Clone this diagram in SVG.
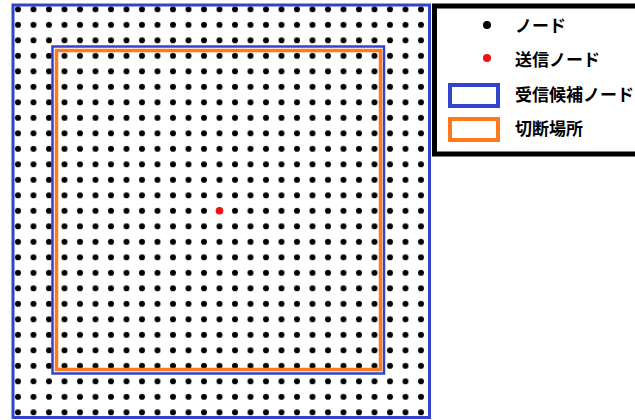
<svg xmlns="http://www.w3.org/2000/svg" width="635" height="420" viewBox="0 0 635 420">
  <style>
    .lbl { font-family: "Noto Sans CJK JP", "Noto Sans", sans-serif; font-size: 17px; font-weight: bold; fill: #000; }
    .blue { fill: none; stroke: #3344cc; }
    .orange { fill: none; stroke: #ff7a1a; }
  </style>
  <defs>
    <pattern id="dots" patternUnits="userSpaceOnUse" x="10.25" y="1.55" width="15.5" height="15.5">
      <circle cx="7.75" cy="7.75" r="3" fill="#000"/>
    </pattern>
  </defs>
  <rect width="635" height="420" fill="#fff"/>

  <g id="nodes">
    <rect x="10.25" y="1.55" width="418.5" height="418.5" fill="url(#dots)"/>
  </g>
  <g id="sender">
    <circle cx="219.5" cy="210.8" r="3.8" fill="#ee1111"/>
  </g>
  <g id="receive-candidates">
    <rect class="blue" x="13" y="5" width="416.5" height="412.5" stroke-width="3"/>
  </g>
  <g id="cut-candidates-inner">
    <rect class="blue" x="52.5" y="46.5" width="331.5" height="327" stroke-width="2.5"/>
  </g>
  <g id="cut-place">
    <rect class="orange" x="56.5" y="50.5" width="324" height="319" stroke-width="3.5"/>
  </g>

  <g id="legend">
    <rect x="434.5" y="6" width="210" height="148" fill="#fff" stroke="#000" stroke-width="5"/>
    <g id="legend-node">
      <circle cx="487" cy="25" r="4" fill="#000"/>
      <text class="lbl" x="515" y="32">ノード</text>
    </g>
    <g id="legend-sender">
      <circle cx="487" cy="58" r="4" fill="#ee1111"/>
      <text class="lbl" x="515" y="66">送信ノード</text>
    </g>
    <g id="legend-receive">
      <rect class="blue" x="450" y="85" width="48" height="21" stroke-width="4"/>
      <text class="lbl" x="515" y="101">受信候補ノード</text>
    </g>
    <g id="legend-cut">
      <rect class="orange" x="450" y="119" width="48" height="21" stroke-width="4"/>
      <text class="lbl" x="515" y="135">切断場所</text>
    </g>
  </g>
  <g id="connectors"/>
</svg>
